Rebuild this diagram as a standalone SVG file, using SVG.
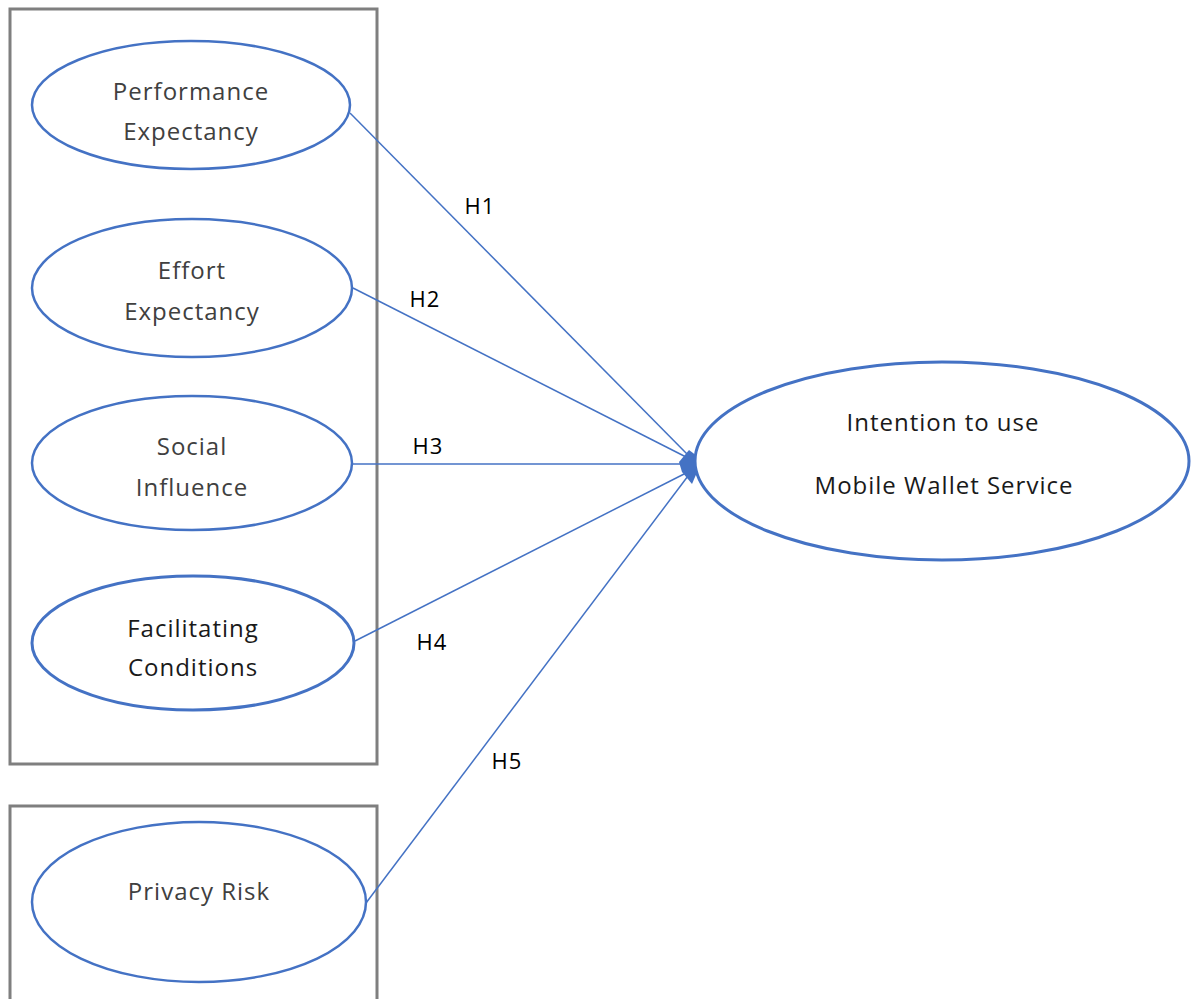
<svg xmlns="http://www.w3.org/2000/svg" width="1192" height="999" viewBox="0 0 1192 999">
<style>
.box{fill:none;stroke:#7f7f7f;stroke-width:3}
.el{fill:#fff;stroke:#4472c4;stroke-width:2.5}
.t{font-family:"Open Sans","Liberation Sans",sans-serif;font-size:24px;letter-spacing:1px;fill:#404040;text-anchor:middle}
.tt{font-family:"Open Sans","Liberation Sans",sans-serif;font-size:24px;letter-spacing:1px;fill:#1a1a1a;text-anchor:middle}
.h{font-family:"Open Sans","Liberation Sans",sans-serif;font-size:22px;letter-spacing:1px;fill:#000;text-anchor:middle}
.ln{stroke:#4472c4;stroke-width:1.5;fill:none}
.ah{fill:#4472c4}
</style>
<rect width="1192" height="999" fill="#fff"/>
<g id="box1"><rect class="box" x="10" y="9" width="367" height="755"/></g>
<g id="box2"><rect class="box" x="10" y="806" width="367" height="200"/></g>
<g id="connectors">
<line class="ln" x1="350" y1="113" x2="688" y2="455"/>
<line class="ln" x1="353" y1="288" x2="688" y2="458"/>
<line class="ln" x1="353" y1="464" x2="690" y2="464"/>
<line class="ln" x1="355" y1="641" x2="688" y2="472"/>
<line class="ln" x1="366" y1="903" x2="688" y2="476"/>
<path class="ah" d="M679,462 L689,450 L697,456 L698,470 L692,484 L682,472 Z"/>
<text class="h" x="480" y="214">H1</text>
<text class="h" x="425" y="307">H2</text>
<text class="h" x="428" y="454">H3</text>
<text class="h" x="432" y="650">H4</text>
<text class="h" x="507" y="769">H5</text>
</g>
<g id="pe"><ellipse class="el" cx="191" cy="105" rx="159" ry="64"/><text class="t" x="191" y="100">Performance</text><text class="t" x="191" y="140">Expectancy</text></g>
<g id="ee"><ellipse class="el" cx="192" cy="288" rx="160" ry="69"/><text class="t" x="192" y="279">Effort</text><text class="t" x="192" y="320">Expectancy</text></g>
<g id="si"><ellipse class="el" cx="192" cy="463" rx="160" ry="67"/><text class="t" x="192" y="455">Social</text><text class="t" x="192" y="496">Influence</text></g>
<g id="fc"><ellipse class="el" cx="193" cy="643" rx="161" ry="67" style="stroke-width:3"/><text class="tt" x="193" y="637">Facilitating</text><text class="tt" x="193" y="676">Conditions</text></g>
<g id="pr"><ellipse class="el" cx="199" cy="902" rx="167" ry="80"/><text class="t" x="199" y="900">Privacy Risk</text></g>
<g id="iu"><ellipse class="el" cx="942" cy="461" rx="247" ry="99" style="stroke-width:3"/><text class="tt" x="943" y="431">Intention to use</text><text class="tt" x="944" y="494">Mobile Wallet Service</text></g>
</svg>
